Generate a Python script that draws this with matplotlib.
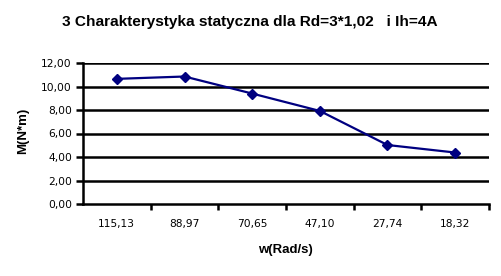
import matplotlib
matplotlib.use("Agg")
import matplotlib.pyplot as plt
import numpy as np

categories = ["115,13", "88,97", "70,65", "47,10", "27,74", "18,32"]
moment = [10.65, 10.85, 9.40, 7.92, 5.02, 4.38]
yticks = [0, 2, 4, 6, 8, 10, 12]

plt.rcParams['font.family'] = ['Liberation Sans', 'DejaVu Sans']

fig = plt.figure(figsize=(5.01, 2.76), dpi=100)
W, H = 501, 276
left, right, top, bottom = 83, 489, 63, 204
ax = fig.add_axes([left / W, 1 - bottom / H, (right - left) / W, (bottom - top) / H])

x = np.arange(len(categories))
ax.plot(x, moment, color="#000080", lw=1.6, marker="D", ms=5, mec="#000080", mfc="#000080", zorder=3)

ax.set_xlim(-0.5, len(categories) - 0.5)
ax.set_ylim(0, 12)
ax.set_yticks(yticks)
ax.set_yticklabels([f"{v:.2f}".replace(".", ",") for v in yticks], fontsize=7.7, family="DejaVu Sans")
for v in yticks[1:]:
    ax.axhline(v, color="black", lw=1.8, zorder=0)

ax.set_xticks(x)
ax.set_xticklabels(categories, fontsize=7.7, family="DejaVu Sans")
ax.tick_params(axis="x", length=0, pad=11)
ax.set_xticks(np.arange(len(categories)) + 0.5, minor=True)
ax.tick_params(axis="x", which="minor", length=4, width=1.8, direction="out", color="black")
ax.tick_params(axis="y", length=5, width=1.8, direction="out", pad=3)

for s in ["top", "right"]:
    ax.spines[s].set_visible(False)
for s in ["left", "bottom"]:
    ax.spines[s].set_linewidth(1.8)

fig.text(250 / W, 1 - 22 / H, "3 Charakterystyka statyczna dla Rd=3*1,02   i Ih=4A",
         ha="center", va="center", fontsize=11.1, fontweight="bold")
fig.text(285 / W, 1 - 250 / H, "w(Rad/s)", ha="center", va="center", fontsize=9.5, fontweight="bold")
fig.text(23 / W, 1 - 131 / H, "M(N*m)", ha="center", va="center", rotation=90, fontsize=9.5, fontweight="bold")

fig.savefig("out.png", dpi=100)
